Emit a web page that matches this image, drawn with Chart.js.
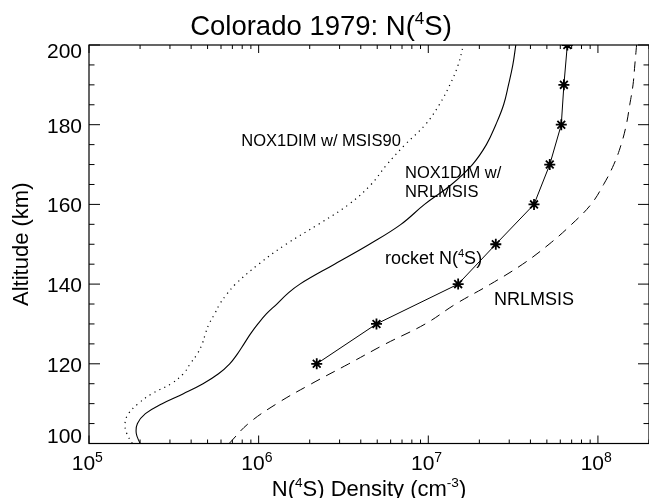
<!DOCTYPE html>
<html>
<head>
<meta charset="utf-8">
<title>Colorado 1979: N(4S)</title>
<script src="https://cdn.jsdelivr.net/npm/chart.js@4.4.1/dist/chart.umd.min.js"></script>
<style>
    html, body { margin: 0; padding: 0; background: #fff; }
    #chart { display: block; }
</style>
</head>
<body>
<canvas id="chart" width="649" height="498"></canvas>
<script>
// altitudes (km) the two NOX1DIM model curves were read at
const modelAltitudes = [100, 102.5, 105, 107.5, 110, 112.5, 115, 117.5, 120, 122.5, 125, 127.5, 130,
    132.5, 135, 137.5, 140, 145, 150, 155, 160, 165, 170, 175, 180, 185, 190, 195, 200];

// NOX1DIM w/ NRLMSIS (solid), cm-3
const nox1dimNrlmsis = [2.0e5, 1.9e5, 1.93e5, 2.15e5, 2.7e5, 3.6e5, 4.7e5, 5.8e5, 6.75e5, 7.5e5, 8.2e5, 8.95e5, 9.9e5,
    1.11e6, 1.28e6, 1.47e6, 1.75e6, 2.8e6, 4.5e6, 6.9e6, 9.5e6, 1.37e7, 1.82e7, 2.2e7, 2.5e7, 2.78e7, 2.97e7, 3.15e7, 3.28e7];

// NOX1DIM w/ MSIS90 (dotted), cm-3
const nox1dimMsis90 = [1.8e5, 1.67e5, 1.63e5, 1.71e5, 1.95e5, 2.35e5, 3.05e5, 3.6e5, 3.95e5, 4.35e5, 4.65e5, 4.85e5, 5.1e5,
    5.5e5, 5.9e5, 6.5e5, 7.3e5, 1.0e6, 1.45e6, 2.25e6, 3.4e6, 4.6e6, 5.7e6, 7.3e6, 9.6e6, 1.16e7, 1.34e7, 1.5e7, 1.61e7];

// NRLMSIS (dashed)
const nrlmsisAltitudes = [100, 105, 110, 115, 120, 125, 130, 135, 140, 145, 150, 155, 160, 165, 170, 175, 180, 185, 190, 195, 200];
const nrlmsisDensity = [6.7e5, 8.7e5, 1.28e6, 2.05e6, 3.4e6, 5.6e6, 9.6e6, 1.45e7, 2.33e7, 3.6e7, 5.15e7, 7.0e7, 9.1e7,
    1.08e8, 1.24e8, 1.37e8, 1.47e8, 1.54e8, 1.61e8, 1.65e8, 1.69e8];

// rocket N(4S) measurements
const rocketAltitudes = [120, 130, 140, 150, 160, 170, 180, 190, 200];
const rocketDensity = [2.2e6, 4.95e6, 1.5e7, 2.5e7, 4.2e7, 5.2e7, 6.08e7, 6.3e7, 6.6e7];

// axis ticks
const xTickValues = [1e5, 1e6, 1e7, 1e8];
const xTickExponents = ['5', '6', '7', '8'];
const yTickValues = [100, 120, 140, 160, 180, 200];

// curve labels: [text, superscript?] pieces, anchored at left/baseline in data units
const curveLabels = [
    {parts: [['NOX1DIM w/ MSIS90', false]], x: 7.9e5, y: 174.7, size: 16.5},
    {parts: [['NOX1DIM w/', false]], x: 7.3e6, y: 166.6, size: 16.5},
    {parts: [['NRLMSIS', false]], x: 7.3e6, y: 161.9, size: 16.5},
    {parts: [['rocket N(', false], ['4', true], ['S)', false]], x: 5.55e6, y: 145.1, size: 18},
    {parts: [['NRLMSIS', false]], x: 2.44e7, y: 134.8, size: 18},
];

const FONT = "'Liberation Sans', Arial, Helvetica, sans-serif";

function toPoints(xs, ys) {
    return xs.map(function (v, i) {
        return {x: v, y: ys[i]};
    });
}

function richWidth(ctx, parts, size) {
    let w = 0;
    parts.forEach(function (p) {
        ctx.font = (p[1] ? size * 0.62 : size) + 'px ' + FONT;
        w += ctx.measureText(p[0]).width;
    });
    return w;
}

// draws text with superscript pieces, x = left edge, y = baseline
function drawRich(ctx, parts, x, y, size) {
    ctx.textAlign = 'left';
    ctx.textBaseline = 'alphabetic';
    parts.forEach(function (p) {
        const s = p[1] ? size * 0.62 : size;
        ctx.font = s + 'px ' + FONT;
        ctx.fillText(p[0], x, p[1] ? y - size * 0.4 : y);
        x += ctx.measureText(p[0]).width;
    });
}

const idlFrame = {
    id: 'idlFrame',
    afterDraw(chart) {
        const ctx = chart.ctx;
        const a = chart.chartArea;
        const xs = chart.scales.x;
        const ys = chart.scales.y;

        ctx.save();
        ctx.strokeStyle = '#000';
        ctx.fillStyle = '#000';
        ctx.lineWidth = 1.2;
        ctx.strokeRect(a.left, a.top, a.right - a.left, a.bottom - a.top);

        // x ticks, inside, top and bottom
        ctx.lineWidth = 1;
        ctx.beginPath();
        for (let e = 5; e <= 8; e++) {
            for (let k = 1; k <= 9; k++) {
                const v = k * Math.pow(10, e);
                if (v > xs.max) break;
                const px = xs.getPixelForValue(v);
                const len = k === 1 ? 8 : 4;
                ctx.moveTo(px, a.bottom);
                ctx.lineTo(px, a.bottom - len);
                ctx.moveTo(px, a.top);
                ctx.lineTo(px, a.top + len);
            }
        }
        // y ticks, inside, left and right
        for (let v = ys.min; v <= ys.max; v += 5) {
            const py = ys.getPixelForValue(v);
            const len = v % 20 === 0 ? 11 : 5.5;
            ctx.moveTo(a.left, py);
            ctx.lineTo(a.left + len, py);
            ctx.moveTo(a.right, py);
            ctx.lineTo(a.right - len, py);
        }
        ctx.stroke();

        // x tick labels 10^n
        xTickValues.forEach(function (v, i) {
            const parts = [['10', false], [xTickExponents[i], true]];
            const w = richWidth(ctx, parts, 21);
            const px = xs.getPixelForValue(v);
            ctx.font = '21px ' + FONT;
            const w10 = ctx.measureText('10').width;
            ctx.textAlign = 'left';
            ctx.fillText('10', px - w / 2 - 2, 470);
            ctx.font = '14px ' + FONT;
            ctx.fillText(xTickExponents[i], px - w / 2 - 2 + w10, 461.5);
        });

        // y tick labels
        ctx.font = '21px ' + FONT;
        ctx.textAlign = 'right';
        ctx.textBaseline = 'alphabetic';
        yTickValues.forEach(function (v) {
            const py = ys.getPixelForValue(v);
            let base = py + 8;
            if (v === ys.max) base = py + 13;
            if (v === ys.min) base = py - 0.5;
            ctx.fillText(String(v), a.left - 7, base);
        });

        // curve labels
        curveLabels.forEach(function (l) {
            drawRich(ctx, l.parts, xs.getPixelForValue(l.x), ys.getPixelForValue(l.y), l.size);
        });

        // title
        const titleParts = [['Colorado 1979: N(', false], ['4', true], ['S)', false]];
        const tw = richWidth(ctx, titleParts, 27.5);
        drawRich(ctx, titleParts, 321 - tw / 2, 35, 27.5);

        // x axis title
        const xParts = [['N(', false], ['4', true], ['S) Density (cm', false], ['-3', true], [')', false]];
        const xw = richWidth(ctx, xParts, 22);
        drawRich(ctx, xParts, (a.left + a.right) / 2 - xw / 2, 495.5, 22);

        // y axis title
        ctx.save();
        ctx.translate(28, (a.top + a.bottom) / 2);
        ctx.rotate(-Math.PI / 2);
        ctx.font = '22px ' + FONT;
        ctx.textAlign = 'center';
        ctx.fillText('Altitude (km)', 0, 0);
        ctx.restore();

        ctx.restore();
    }
};

new Chart(document.getElementById('chart'), {
    type: 'scatter',
    data: {
        datasets: [
            {
                label: 'NRLMSIS',
                data: toPoints(nrlmsisDensity, nrlmsisAltitudes),
                showLine: true,
                borderColor: '#000',
                borderWidth: 1,
                borderDash: [10, 7],
                pointRadius: 0,
                tension: 0.4,
            },
            {
                label: 'NOX1DIM w/ MSIS90',
                data: toPoints(nox1dimMsis90, modelAltitudes),
                showLine: true,
                borderColor: '#000',
                borderWidth: 1.2,
                borderDash: [1.2, 4.3],
                pointRadius: 0,
                tension: 0.4,
            },
            {
                label: 'NOX1DIM w/ NRLMSIS',
                data: toPoints(nox1dimNrlmsis, modelAltitudes),
                showLine: true,
                borderColor: '#000',
                borderWidth: 1.1,
                pointRadius: 0,
                tension: 0.4,
            },
            {
                label: 'rocket N(4S)',
                data: toPoints(rocketDensity, rocketAltitudes),
                showLine: true,
                borderColor: '#000',
                backgroundColor: '#000',
                borderWidth: 1,
                pointStyle: 'star',
                pointRadius: 5.5,
                pointBorderWidth: 1.8,
                pointBorderColor: '#000',
                tension: 0,
            },
        ],
    },
    options: {
        responsive: false,
        animation: false,
        devicePixelRatio: 1,
        events: [],
        layout: {
            autoPadding: false,
            padding: {left: 89, right: 0, top: 45, bottom: 54.5},
        },
        plugins: {
            legend: {display: false},
            title: {display: false},
            tooltip: {enabled: false},
        },
        scales: {
            x: {
                type: 'logarithmic',
                min: 1e5,
                max: 2e8,
                display: false,
            },
            y: {
                type: 'linear',
                min: 100,
                max: 200,
                display: false,
            },
        },
    },
    plugins: [idlFrame],
});
</script>
</body>
</html>
